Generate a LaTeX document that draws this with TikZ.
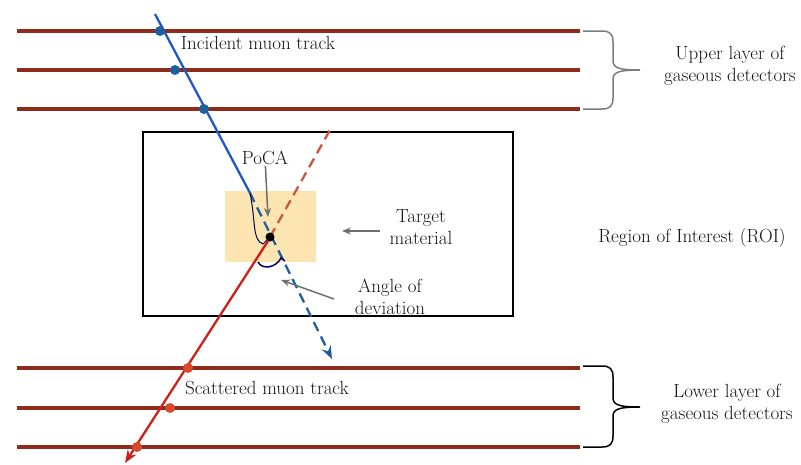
\documentclass[tikz,border=0pt]{standalone}
\usepackage{xcolor}
\usepackage{tikz}
\usetikzlibrary{calc,arrows.meta}

\definecolor{detred}{HTML}{8E2B1C}
\definecolor{inblue}{HTML}{2058C4}
\definecolor{dashblue}{HTML}{1F5F9E}
\definecolor{outred}{HTML}{CF1F1A}
\definecolor{dashred}{HTML}{C9583C}
\definecolor{hitred}{HTML}{D9492C}
\definecolor{target}{HTML}{FCE5B1}
\definecolor{txt}{HTML}{151515}
\definecolor{pointer}{HTML}{6E6E6E}

\tikzset{
  layer/.style={detred, line width=3.5pt},
  hitb/.style={circle, fill=dashblue, inner sep=0pt, minimum size=10pt},
  hitr/.style={circle, fill=hitred, inner sep=0pt, minimum size=10pt},
  lbl/.style={text=txt, align=center, inner sep=1pt},
  ptr/.style={pointer, line width=1.5pt, -{Stealth[length=9pt,width=7pt]}},
  brc/.style={line width=1.5pt},
}

\begin{document}
\begin{tikzpicture}[x=1pt,y=-1pt,font=\fontsize{19}{22}\selectfont]
  \useasboundingbox (0,0) rectangle (801,464);

  % detector planes
  \foreach \yy in {31,70,109,368,408,447}
    \draw[layer] (17,\yy) -- (580,\yy);

  % braces and layer labels
  \draw[brc, pointer!90] (583,31) -- (602,31) .. controls (610,31) and (613,34) .. (613,42)
    -- (613,60) .. controls (613,67) and (616,70) .. (640,70)
    .. controls (616,70) and (613,73) .. (613,80) -- (613,98)
    .. controls (613,106) and (610,109) .. (602,109) -- (583,109);
  \draw[brc, black] (583,366) -- (602,366) .. controls (610,366) and (613,369) .. (613,377)
    -- (613,397) .. controls (613,404) and (616,407) .. (640,407)
    .. controls (616,407) and (613,410) .. (613,417) -- (613,436)
    .. controls (613,444) and (610,447) .. (602,447) -- (583,447);
  \node[lbl] (upper) at (730,66) {Upper layer of\\gaseous detectors};
  \node[lbl] (lower) at (727,404) {Lower layer of\\gaseous detectors};

  % region of interest
  \draw[black, line width=1.5pt] (143,132) rectangle (513,316);
  \node[lbl] (roi) at (692,238) {Region of Interest (ROI)};
  \fill[target] (225,191) rectangle (316,262);

  % tracks
  \coordinate (top) at (155,14);
  \coordinate (kink) at (250,193);
  \coordinate (pc) at (270,237);
  \coordinate (redtop) at (330,130);
  \coordinate (redbot) at (125,463);
  \coordinate (bluend) at (332,359);
  \draw[inblue, line width=2.3pt] (top) -- (kink);
  \draw[dashred, line width=2.3pt, dash pattern=on 10pt off 6pt] (pc) -- (redtop);
  \draw[outred, line width=2.3pt, -{Stealth[length=13pt,width=10pt]}] (268,241) -- (redbot);
  \draw[dashblue, line width=2.3pt, dash pattern=on 10pt off 6pt,
        -{Stealth[length=13pt,width=10pt]}] (kink) -- (bluend);

  % hits
  \node[hitb] (b1) at (160,31) {};
  \node[hitb] (b2) at (175,70) {};
  \node[hitb] (b3) at (204,109) {};
  \node[hitr] (r1) at (188,368) {};
  \node[hitr] (r2) at (170,408) {};
  \node[hitr] (r3) at (137,447) {};

  % angle marks
  \draw[black!75!blue, line width=1pt] (kink) .. controls (256,222) and (252,240) .. (263,244) -- (267,240);
  \draw[black!60!blue, line width=1.5pt] (258,262) .. controls (262,270) and (276,268) .. (281,258) -- (285,261);

  % point of closest approach
  \node[circle, fill=black, inner sep=0pt, minimum size=9pt] (poca) at (pc) {};
  \node[lbl] (pocalbl) at (265,158) {PoCA};
  \coordinate (pocatip) at (268,217);
  \draw[ptr] (pocalbl) -- (pocatip);

  \node[lbl] (tgt) at (421,227) {Target\\material};
  \coordinate (tgttip) at (342,231);
  \draw[ptr] (380,231) -- (tgttip);

  \node[lbl] (dev) at (390,297) {Angle of\\deviation};
  \coordinate (devtip) at (281,280);
  \draw[ptr] (334,299) -- (devtip);

  \node[lbl] (inc) at (258,43) {Incident muon track};
  \node[lbl] (sca) at (267,388) {Scattered muon track};
\end{tikzpicture}
\end{document}
